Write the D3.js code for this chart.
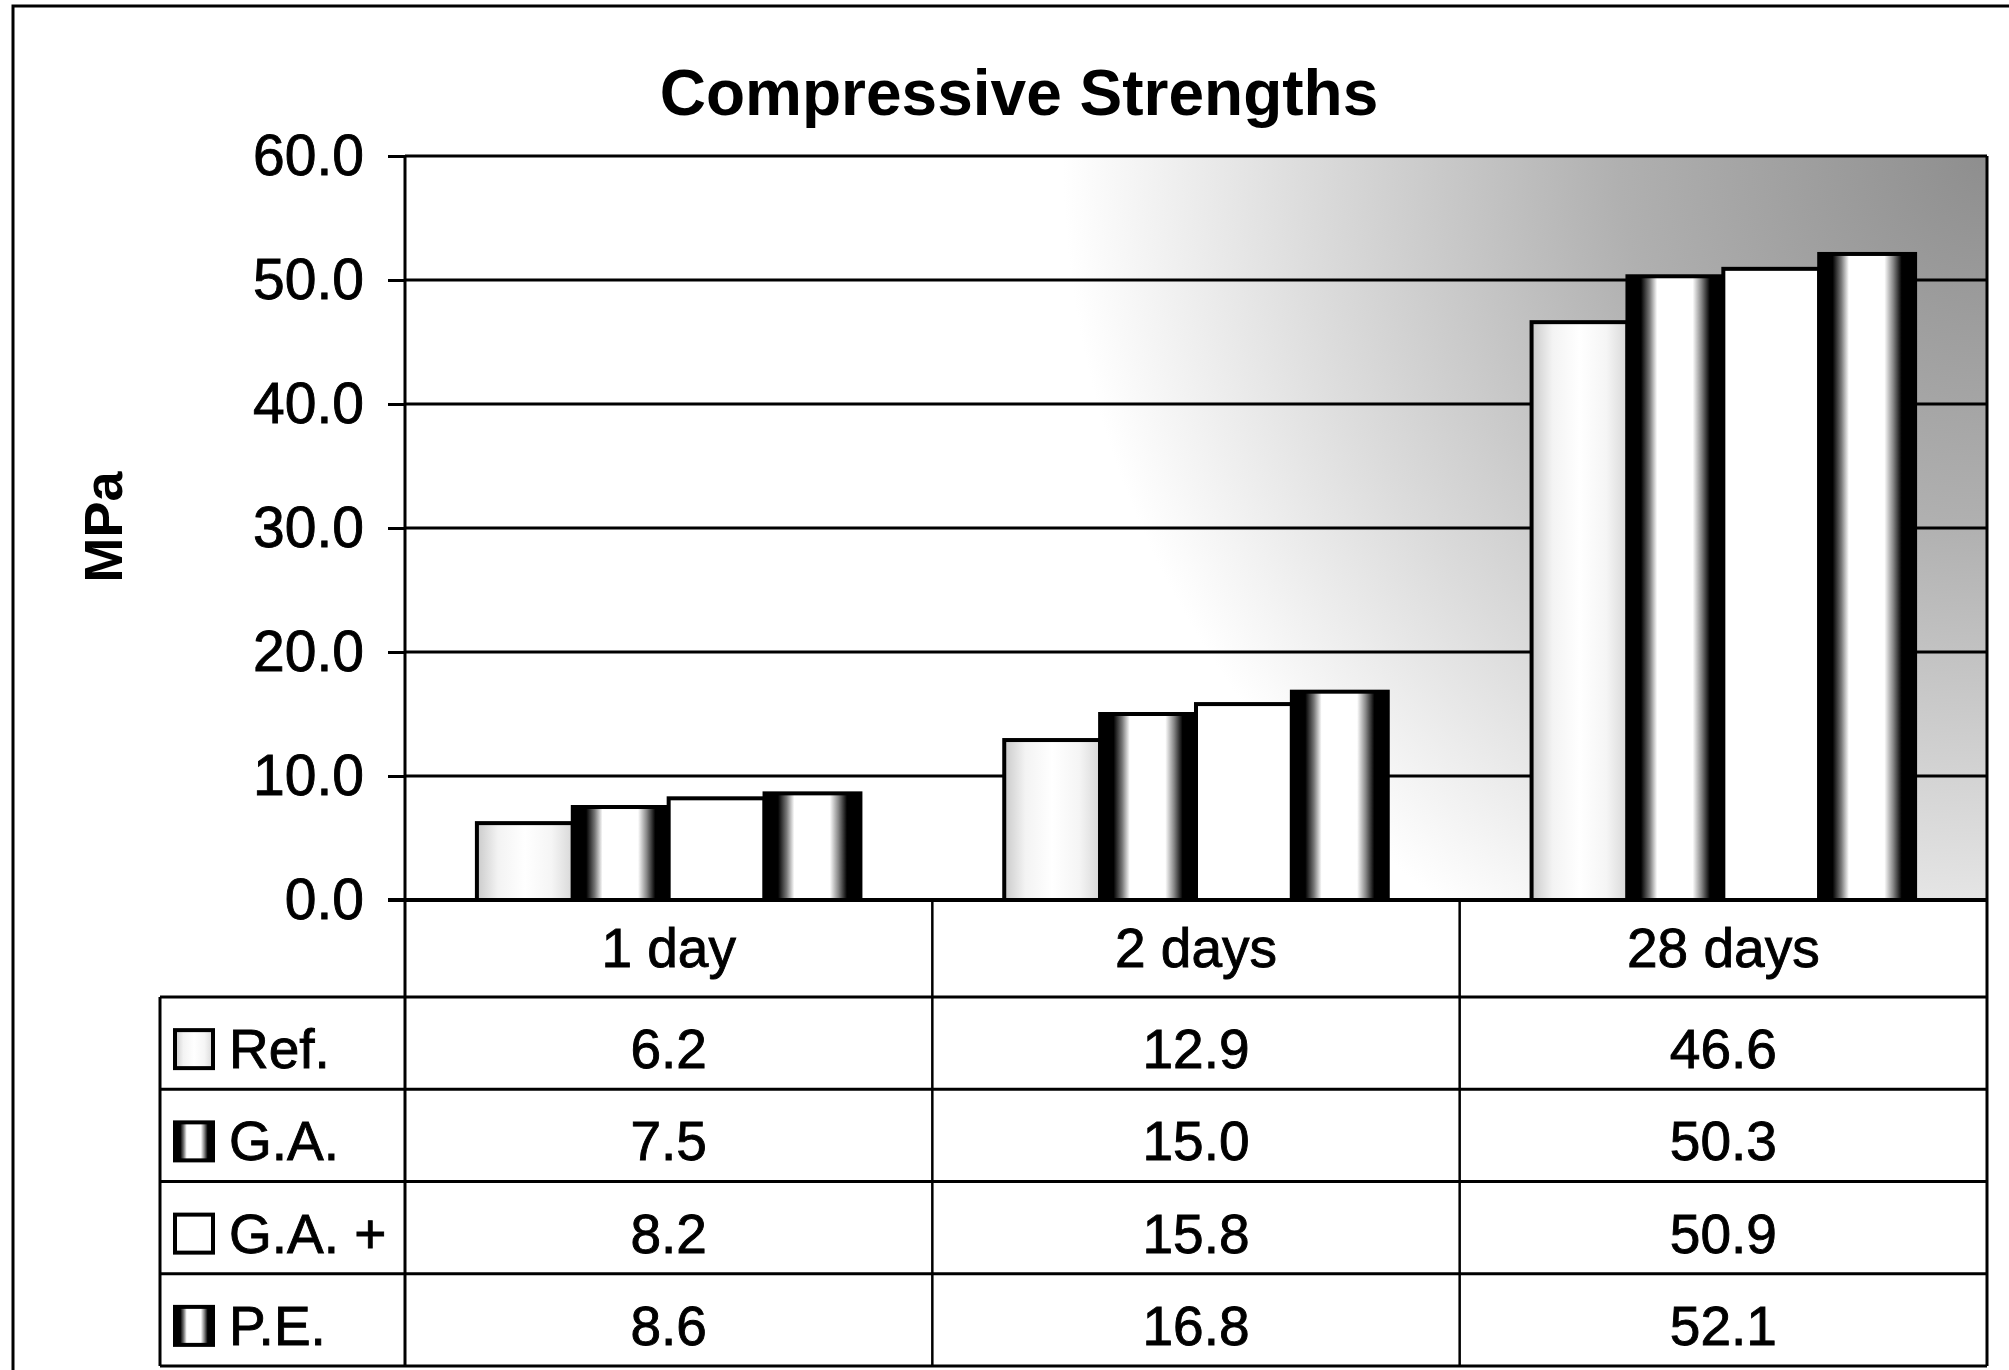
<!DOCTYPE html>
<html>
<head>
<meta charset="utf-8">
<script src="https://cdn.jsdelivr.net/npm/d3@7"></script>
<style>
  html, body { margin: 0; padding: 0; background: #fff; }
  svg { display: block; }
  text { font-family: "Liberation Sans", Arial, sans-serif; fill: #000; }
  .heavy { stroke: #000; stroke-width: 0.9px; }
</style>
</head>
<body>
<svg id="chart" width="2009" height="1370"></svg>
<script>
// ---- data ----
const categories = ["1 day", "2 days", "28 days"];
const seriesNames = ["Ref.", "G.A.", "G.A. +", "P.E."];
const refValues   = [6.2, 12.9, 46.6];
const gaValues    = [7.5, 15.0, 50.3];
const gaPlusValues= [8.2, 15.8, 50.9];
const peValues    = [8.6, 16.8, 52.1];
const yTicks = [0, 10, 20, 30, 40, 50, 60];
const titleText = "Compressive Strengths";
const yLabel = "MPa";

const seriesValues = [refValues, gaValues, gaPlusValues, peValues];
const seriesFill = ["url(#gRef)", "url(#gCyl)", "#ffffff", "url(#gCyl)"];

const svg = d3.select("#chart");
const W = 2009, H = 1370;
const plot = { left: 405, right: 1987, top: 156, bottom: 900 };
const tableLeft = 160, tableTop = 997, tableBottom = 1366;

// ---- defs ----
const defs = svg.append("defs");
const bg = defs.append("radialGradient").attr("id", "gBg")
  .attr("gradientUnits", "userSpaceOnUse")
  .attr("cx", plot.right).attr("cy", plot.top).attr("r", 1050);
[[0, "#8e8e8e"], [0.35, "#b0b0b0"], [0.65, "#dcdcdc"], [0.88, "#ffffff"], [1, "#ffffff"]]
  .forEach(([o, c]) => bg.append("stop").attr("offset", o).attr("stop-color", c));

const cyl = defs.append("linearGradient").attr("id", "gCyl")
  .attr("x1", 0).attr("x2", 1).attr("y1", 0).attr("y2", 0);
[[0, "#000"], [0.14, "#000"], [0.23, "#777"], [0.31, "#fff"], [0.68, "#fff"], [0.77, "#888"], [0.86, "#000"], [1, "#000"]]
  .forEach(([o, c]) => cyl.append("stop").attr("offset", o).attr("stop-color", c));

const refG = defs.append("linearGradient").attr("id", "gRef")
  .attr("x1", 0).attr("x2", 1).attr("y1", 0).attr("y2", 0);
[[0, "#cacaca"], [0.22, "#f3f3f3"], [0.5, "#ffffff"], [0.78, "#f5f5f5"], [1, "#d8d8d8"]]
  .forEach(([o, c]) => refG.append("stop").attr("offset", o).attr("stop-color", c));

// ---- scales ----
const x0 = d3.scaleBand().domain(categories).range([plot.left, plot.right]).padding(0);
const x1 = d3.scaleBand().domain(seriesNames).range([0, x0.bandwidth()])
  .paddingInner(0).paddingOuter(0.75);
const y = d3.scaleLinear().domain([0, 60]).range([plot.bottom, plot.top]);
const rowY = d3.scaleBand().domain(seriesNames).range([tableTop, tableBottom]);
const rowH = rowY.bandwidth();

// ---- outer frame ----
svg.append("rect").attr("x", 13).attr("y", 6).attr("width", W + 20).attr("height", H + 20)
  .attr("fill", "#fff").attr("stroke", "#000").attr("stroke-width", 3);

// ---- plot background ----
svg.append("rect").attr("x", plot.left).attr("y", plot.top)
  .attr("width", plot.right - plot.left).attr("height", plot.bottom - plot.top)
  .attr("fill", "url(#gBg)");

// ---- gridlines ----
svg.append("g").selectAll("line").data(yTicks.filter(d => d > 0)).join("line")
  .attr("x1", plot.left).attr("x2", plot.right)
  .attr("y1", d => y(d)).attr("y2", d => y(d))
  .attr("stroke", "#000").attr("stroke-width", 3);

// ---- bars ----
const groups = svg.append("g").selectAll("g").data(categories).join("g")
  .attr("transform", d => `translate(${x0(d)},0)`);
groups.selectAll("rect").data((c, ci) => seriesNames.map((s, si) => ({ s, si, v: seriesValues[si][ci] })))
  .join("rect")
  .attr("x", d => x1(d.s))
  .attr("width", x1.bandwidth())
  .attr("y", d => y(d.v))
  .attr("height", d => y(0) - y(d.v))
  .attr("fill", d => seriesFill[d.si])
  .attr("stroke", "#000").attr("stroke-width", 4);

// ---- plot right border ----
svg.append("line").attr("x1", plot.right).attr("x2", plot.right)
  .attr("y1", plot.top).attr("y2", tableBottom).attr("stroke", "#000").attr("stroke-width", 3);

// ---- y axis ----
const yAxis = d3.axisLeft(y).tickValues(yTicks).tickSize(17).tickPadding(24)
  .tickFormat(d3.format(".1f"));
const ya = svg.append("g").attr("transform", `translate(${plot.left},0)`).call(yAxis);
ya.select(".domain").remove();
ya.selectAll(".tick line").attr("stroke", "#000").attr("stroke-width", 3);
ya.selectAll(".tick text").attr("font-size", 57).attr("fill", "#000")
  .attr("class", "heavy")
  .attr("font-family", "'Liberation Sans', Arial, sans-serif").attr("dy", "0.32em");
svg.append("line").attr("x1", plot.left).attr("x2", plot.left)
  .attr("y1", plot.top - 1).attr("y2", tableBottom).attr("stroke", "#000").attr("stroke-width", 3);

// baseline (x axis)
svg.append("line").attr("x1", plot.left - 17).attr("x2", plot.right)
  .attr("y1", y(0)).attr("y2", y(0)).attr("stroke", "#000").attr("stroke-width", 4);

// ---- data table ----
const tbl = svg.append("g");
tbl.selectAll("line.h").data(d3.range(seriesNames.length + 1)).join("line")
  .attr("class", "h")
  .attr("x1", tableLeft).attr("x2", plot.right)
  .attr("y1", i => tableTop + i * rowH).attr("y2", i => tableTop + i * rowH)
  .attr("stroke", "#000").attr("stroke-width", 3);
tbl.append("line").attr("x1", tableLeft).attr("x2", tableLeft)
  .attr("y1", tableTop).attr("y2", tableBottom).attr("stroke", "#000").attr("stroke-width", 3);
tbl.selectAll("line.v").data(categories.slice(1)).join("line")
  .attr("class", "v")
  .attr("x1", d => x0(d)).attr("x2", d => x0(d))
  .attr("y1", plot.bottom).attr("y2", tableBottom)
  .attr("stroke", "#000").attr("stroke-width", 2.5);
tbl.selectAll("text.cat").data(categories).join("text")
  .attr("class", "cat heavy")
  .attr("x", d => x0(d) + x0.bandwidth() / 2)
  .attr("y", 967)
  .attr("text-anchor", "middle").attr("font-size", 55)
  .text(d => d);
const keySize = 38;
tbl.selectAll("rect.key").data(seriesNames).join("rect")
  .attr("class", "key")
  .attr("x", 175).attr("y", d => rowY(d) + rowH / 2 - keySize / 2 + 6)
  .attr("width", keySize).attr("height", keySize)
  .attr("fill", (d, i) => seriesFill[i])
  .attr("stroke", "#000").attr("stroke-width", 4);
tbl.selectAll("text.sname").data(seriesNames).join("text")
  .attr("class", "sname heavy")
  .attr("x", 229).attr("y", d => rowY(d) + rowH / 2 + 25)
  .attr("font-size", 55)
  .text(d => d);
seriesNames.forEach((s, si) => {
  tbl.append("g").selectAll("text").data(categories).join("text")
    .attr("class", "heavy")
    .attr("x", d => x0(d) + x0.bandwidth() / 2)
    .attr("y", rowY(s) + rowH / 2 + 25)
    .attr("text-anchor", "middle").attr("font-size", 55)
    .text((d, ci) => d3.format(".1f")(seriesValues[si][ci]));
});

// ---- title ----
svg.append("text").attr("x", 1019).attr("y", 115)
  .attr("text-anchor", "middle").attr("font-size", 64).attr("font-weight", "bold")
  .text(titleText);

// ---- y label ----
svg.append("text")
  .attr("transform", "translate(122,527) rotate(-90)")
  .attr("text-anchor", "middle").attr("font-size", 54).attr("font-weight", "bold")
  .text(yLabel);
</script>
</body>
</html>
